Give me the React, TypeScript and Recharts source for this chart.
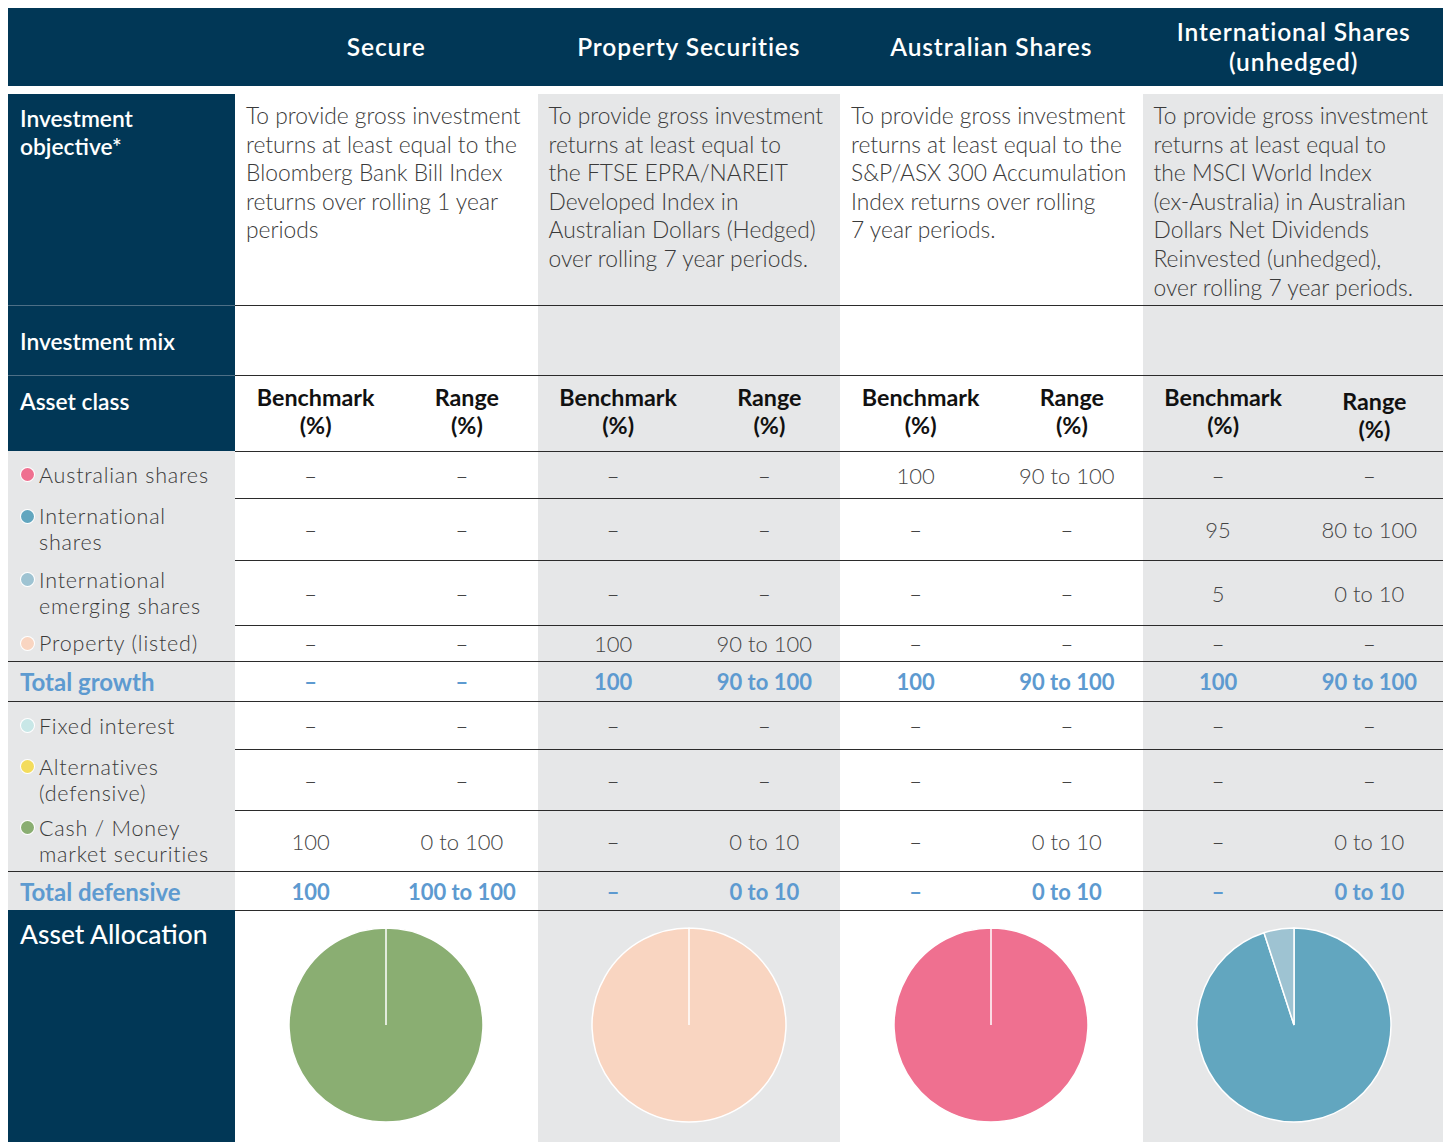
import React from 'react';
import { PieChart, Pie, Cell } from 'recharts';

const FUND_TITLES = [['Secure'], ['Property Securities'], ['Australian Shares'], ['International Shares', '(unhedged)']];

const OBJECTIVES = [
  ['To provide gross investment', 'returns at least equal to the', 'Bloomberg Bank Bill Index', 'returns over rolling 1 year', 'periods'],
  ['To provide gross investment', 'returns at least equal to', 'the FTSE EPRA/NAREIT', 'Developed Index in', 'Australian Dollars (Hedged)', 'over rolling 7 year periods.'],
  ['To provide gross investment', 'returns at least equal to the', 'S&P/ASX 300 Accumulation', 'Index returns over rolling', '7 year periods.'],
  ['To provide gross investment', 'returns at least equal to', 'the MSCI World Index', '(ex-Australia) in Australian', 'Dollars Net Dividends', 'Reinvested (unhedged),', 'over rolling 7 year periods.'],
];

const ASSET_CLASSES = ['Australian shares', 'International shares', 'International emerging shares', 'Property (listed)', 'Fixed interest', 'Alternatives (defensive)', 'Cash / Money market securities'];
const ASSET_LABELS = [['Australian shares'], ['International', 'shares'], ['International', 'emerging shares'], ['Property (listed)'], ['Fixed interest'], ['Alternatives', '(defensive)'], ['Cash / Money', 'market securities']];
const ASSET_COLORS = ['#ef7090', '#62a6bf', '#9ec3d2', '#f9d5c1', '#c8e7e7', '#f3dc5c', '#8aae72'];
const GROWTH_COUNT = 4;

// benchmark % per asset class, in ASSET_CLASSES order
const SECURE_BENCHMARK = [0, 0, 0, 0, 0, 0, 100];
const PROPERTY_BENCHMARK = [0, 0, 0, 100, 0, 0, 0];
const AUSTRALIAN_BENCHMARK = [100, 0, 0, 0, 0, 0, 0];
const INTERNATIONAL_BENCHMARK = [0, 95, 5, 0, 0, 0, 0];

const SECURE_RANGE = ['–', '–', '–', '–', '–', '–', '0 to 100'];
const PROPERTY_RANGE = ['–', '–', '–', '90 to 100', '–', '–', '0 to 10'];
const AUSTRALIAN_RANGE = ['90 to 100', '–', '–', '–', '–', '–', '0 to 10'];
const INTERNATIONAL_RANGE = ['–', '80 to 100', '0 to 10', '–', '–', '–', '0 to 10'];

const TOTAL_GROWTH_RANGE = ['–', '90 to 100', '90 to 100', '90 to 100'];
const TOTAL_DEFENSIVE_RANGE = ['100 to 100', '0 to 10', '0 to 10', '0 to 10'];

const BENCHMARKS = [SECURE_BENCHMARK, PROPERTY_BENCHMARK, AUSTRALIAN_BENCHMARK, INTERNATIONAL_BENCHMARK];
const RANGES = [SECURE_RANGE, PROPERTY_RANGE, AUSTRALIAN_RANGE, INTERNATIONAL_RANGE];

const NAVY = '#013756';
const GRAY = '#e6e7e8';
const BLUE = '#5d9ad0';
const LINE = '1.5px solid #2b2b2b';
const FONT = 'Lato, "Open Sans", sans-serif';

const LEFT_W = 227;
const FUND_W = 302.5;
const ROW_H = [47, 62, 65, 36, 48, 61, 61];

const fmt = (v: number) => (v > 0 ? String(v) : '–');
const fundBg = (f: number) => (f % 2 === 1 ? GRAY : '#fff');

function Row({ height, left, leftBg, leftLine, line = true, children }: any) {
  return (
    <div style={{ display: 'flex', height }}>
      <div style={{ width: LEFT_W, boxSizing: 'border-box', background: leftBg, borderTop: leftLine || 'none', flexShrink: 0 }}>{left}</div>
      {[0, 1, 2, 3].map((f) => (
        <div key={f} style={{ width: FUND_W, boxSizing: 'border-box', background: fundBg(f), borderTop: line ? LINE : 'none', display: 'flex', flexShrink: 0 }}>
          {children(f)}
        </div>
      ))}
    </div>
  );
}

function Half({ children, style }: any) {
  return (
    <div style={{ width: '50%', display: 'flex', alignItems: 'center', justifyContent: 'center', whiteSpace: 'nowrap', ...style }}>{children}</div>
  );
}

const navyLabel = (text: string[], extra: any = {}) => (
  <div style={{ color: '#fff', fontWeight: 600, fontSize: 22.8, lineHeight: '28px', padding: '10px 12px', whiteSpace: 'nowrap', ...extra }}>
    {text.map((t) => <div key={t}>{t}</div>)}
  </div>
);

function AssetLabel({ i }: { i: number }) {
  return (
    <div style={{ display: 'flex', alignItems: 'center', height: '100%', paddingLeft: 13 }}>
      <div style={{ position: 'relative', color: '#3a3a3a', fontWeight: 300, fontSize: 21.5, letterSpacing: 0.8, lineHeight: '26px', paddingLeft: 18, whiteSpace: 'nowrap' }}>
        <span style={{ position: 'absolute', left: 0, top: 6.5, width: 13, height: 13, borderRadius: '50%', background: ASSET_COLORS[i], boxShadow: '0 0 0 1px #fff' }} />
        {ASSET_LABELS[i].map((t) => <div key={t}>{t}</div>)}
      </div>
    </div>
  );
}

function AllocationPie({ f }: { f: number }) {
  const data = ASSET_CLASSES.map((name, i) => ({ name, value: BENCHMARKS[f][i], color: ASSET_COLORS[i] })).filter((d) => d.value > 0);
  return (
    <PieChart width={302} height={232} margin={{ top: 0, right: 0, bottom: 0, left: 0 }}>
      <Pie data={data} dataKey="value" nameKey="name" cx={151} cy={114} outerRadius={97} startAngle={90} endAngle={-270}
        stroke="#fff" strokeWidth={1.5} isAnimationActive={false}>
        {data.map((d) => <Cell key={d.name} fill={d.color} />)}
      </Pie>
    </PieChart>
  );
}

export default function App() {
  const valueStyle = { color: '#444', fontWeight: 300, fontSize: 22 };
  const totalStyle = { color: BLUE, fontWeight: 700, fontSize: 22 };
  const totalLabel = (t: string) => (
    <div style={{ ...totalStyle, fontSize: 24, height: '100%', display: 'flex', alignItems: 'center', paddingLeft: 12 }}>{t}</div>
  );
  const sum = (arr: number[], from: number, to: number) => arr.slice(from, to).reduce((a, b) => a + b, 0);

  return (
    <div style={{ width: 1437, marginTop: -1, fontFamily: FONT }}>
      {/* header */}
      <div style={{ display: 'flex', height: 79, background: NAVY }}>
        <div style={{ width: LEFT_W }} />
        {FUND_TITLES.map((lines, f) => (
          <div key={f} style={{ width: FUND_W, display: 'flex', flexDirection: 'column', justifyContent: 'center', alignItems: 'center', color: '#fff', fontWeight: 600, fontSize: 24.5, letterSpacing: 0.9, lineHeight: '29.5px' }}>
            {lines.map((t) => <div key={t}>{t}</div>)}
          </div>
        ))}
      </div>
      <div style={{ height: 8 }} />

      <Row height={211} leftBg={NAVY} line={false} left={navyLabel(['Investment', 'objective*'])}>
        {(f: number) => (
          <div style={{ padding: '7px 11px', color: '#3a3a3a', fontWeight: 300, fontSize: 22.8, lineHeight: '28.6px', whiteSpace: 'nowrap' }}>
            {OBJECTIVES[f].map((t) => <div key={t}>{t}</div>)}
          </div>
        )}
      </Row>

      <Row height={70} leftBg={NAVY} leftLine="1.5px solid #4d6f86"
        left={<div style={{ height: '100%', display: 'flex', alignItems: 'center' }}>{navyLabel(['Investment mix'], { paddingTop: 0, paddingBottom: 0 })}</div>}>
        {() => null}
      </Row>

      <Row height={76} leftBg={NAVY} leftLine="1.5px solid #4d6f86" left={navyLabel(['Asset class'], { paddingTop: 11 })}>
        {(f: number) => (
          <>
            {['Benchmark', 'Range'].map((h, k) => (
              <div key={h} style={{ width: '50%', textAlign: 'center', paddingLeft: 10, boxSizing: 'border-box', paddingTop: f === 3 && k === 1 ? 10.5 : 6.5, color: '#111', fontWeight: 700, fontSize: 23.3, lineHeight: '28.5px' }}>
                <div>{h}</div>
                <div>(%)</div>
              </div>
            ))}
          </>
        )}
      </Row>

      {ASSET_CLASSES.slice(0, GROWTH_COUNT).map((a, i) => (
        <Row key={a} height={ROW_H[i]} leftBg={GRAY} left={<AssetLabel i={i} />}>
          {(f: number) => (
            <>
              <Half style={valueStyle}>{fmt(BENCHMARKS[f][i])}</Half>
              <Half style={valueStyle}>{RANGES[f][i]}</Half>
            </>
          )}
        </Row>
      ))}

      <Row height={40} leftBg={GRAY} leftLine={LINE} left={totalLabel('Total growth')}>
        {(f: number) => (
          <>
            <Half style={totalStyle}>{fmt(sum(BENCHMARKS[f], 0, GROWTH_COUNT))}</Half>
            <Half style={totalStyle}>{TOTAL_GROWTH_RANGE[f]}</Half>
          </>
        )}
      </Row>

      {ASSET_CLASSES.slice(GROWTH_COUNT).map((a, j) => {
        const i = j + GROWTH_COUNT;
        return (
          <Row key={a} height={ROW_H[i]} leftBg={GRAY} leftLine={j === 0 ? LINE : undefined} left={<AssetLabel i={i} />}>
            {(f: number) => (
              <>
                <Half style={valueStyle}>{fmt(BENCHMARKS[f][i])}</Half>
                <Half style={valueStyle}>{RANGES[f][i]}</Half>
              </>
            )}
          </Row>
        );
      })}

      <Row height={39} leftBg={GRAY} leftLine={LINE} left={totalLabel('Total defensive')}>
        {(f: number) => (
          <>
            <Half style={totalStyle}>{fmt(sum(BENCHMARKS[f], GROWTH_COUNT, ASSET_CLASSES.length))}</Half>
            <Half style={totalStyle}>{TOTAL_DEFENSIVE_RANGE[f]}</Half>
          </>
        )}
      </Row>

      <Row height={232} leftBg={NAVY} left={navyLabel(['Asset Allocation'], { fontSize: 26.4, fontWeight: 500, paddingTop: 10 })}>
        {(f: number) => <AllocationPie f={f} />}
      </Row>
    </div>
  );
}
